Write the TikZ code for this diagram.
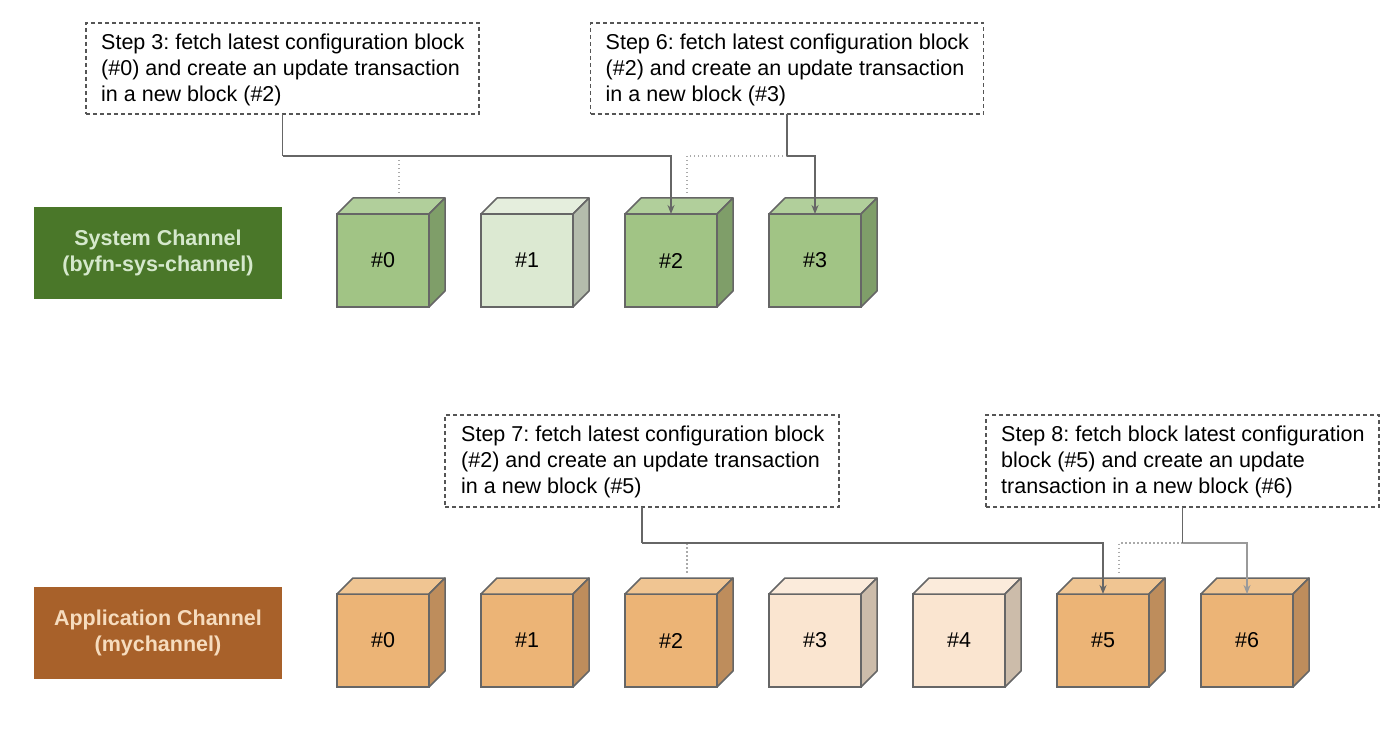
\documentclass[tikz,border=0pt]{standalone}
\usepackage{fontspec}
\setmainfont{Liberation Sans}
\usetikzlibrary{arrows.meta}
\frenchspacing
\definecolor{edgegray}{HTML}{666666}
\definecolor{dashgray}{HTML}{555555}
\definecolor{dotgray}{HTML}{AAAAAA}
\definecolor{lightconn}{HTML}{9A9A9A}
\definecolor{gFront}{HTML}{A1C485}
\definecolor{gTop}{HTML}{B1CF9B}
\definecolor{gSide}{HTML}{7F9E69}
\definecolor{lgFront}{HTML}{DCE9D2}
\definecolor{lgTop}{HTML}{E5EEDD}
\definecolor{lgSide}{HTML}{B4BCAC}
\definecolor{oFront}{HTML}{ECB476}
\definecolor{oTop}{HTML}{F0C592}
\definecolor{oSide}{HTML}{BE8D5C}
\definecolor{loFront}{HTML}{FAE5D0}
\definecolor{loTop}{HTML}{FBEBDB}
\definecolor{loSide}{HTML}{CCBCAA}
\definecolor{sysFill}{HTML}{4A7729}
\definecolor{sysText}{HTML}{D5E8CC}
\definecolor{appFill}{HTML}{A8612A}
\definecolor{appText}{HTML}{F6DCBE}
\newcommand{\cubeblock}[6]{%
  \node[cubefront, fill=#3] (#1) at #2 {#6};
  \filldraw[cubeedge, fill=#4] (#1.north west) -- ([shift={(16,-16)}]#1.north west)
     -- ([shift={(16,-16)}]#1.north east) -- (#1.north east) -- cycle;
  \filldraw[cubeedge, fill=#5] (#1.north east) -- ([shift={(16,-16)}]#1.north east)
     -- ([shift={(16,-16)}]#1.south east) -- (#1.south east) -- cycle;
  \coordinate (#1top) at ([shift={(16,-16)}]#1.north);
}
\begin{document}
\begin{tikzpicture}[x=1pt,y=-1pt,
  txt/.style={font=\fontsize{21.5}{26}\selectfont},
  cubefront/.style={draw=edgegray, line width=1.5pt, minimum width=92pt, minimum height=93pt,
     inner sep=0pt, outer sep=0pt, txt},
  cubeedge/.style={draw=edgegray, line width=1.5pt, line join=round},
  stepbox/.style={draw=dashgray, line width=1.3pt, dash pattern=on 4pt off 3pt,
     minimum width=393pt, inner sep=0pt, outer sep=0pt},
  steptext/.style={txt, align=left, anchor=west, inner sep=0pt, text=black},
  chanbox/.style={minimum width=248pt, minimum height=92pt, inner sep=0pt, align=center,
     font=\fontsize{21.5}{25.5}\selectfont\bfseries},
  conn/.style={draw=edgegray, line width=1.5pt},
  arr/.style={conn, -{Stealth[length=9pt,width=7pt]}},
  dotconn/.style={draw=dotgray, line width=1.6pt, dash pattern=on 1.5pt off 2.5pt},
]
\useasboundingbox (0,0) rectangle (1400,746);

% channel labels
\node[chanbox, fill=sysFill, text=sysText] (sys) at (158,253) {System Channel\\(byfn-sys-channel)};
\node[chanbox, fill=appFill, text=appText] (app) at (158,633) {Application Channel\\(mychannel)};

% system channel blocks
\cubeblock{a0}{(383,260.5)}{gFront}{gTop}{gSide}{\#0}
\cubeblock{a1}{(527,260.5)}{lgFront}{lgTop}{lgSide}{\#1}
\cubeblock{a2}{(671,260.5)}{gFront}{gTop}{gSide}{\#2}
\cubeblock{a3}{(815,260.5)}{gFront}{gTop}{gSide}{\#3}

% application channel blocks
\cubeblock{b0}{(383,640.5)}{oFront}{oTop}{oSide}{\#0}
\cubeblock{b1}{(527,640.5)}{oFront}{oTop}{oSide}{\#1}
\cubeblock{b2}{(671,640.5)}{oFront}{oTop}{oSide}{\#2}
\cubeblock{b3}{(815,640.5)}{loFront}{loTop}{loSide}{\#3}
\cubeblock{b4}{(959,640.5)}{loFront}{loTop}{loSide}{\#4}
\cubeblock{b5}{(1103,640.5)}{oFront}{oTop}{oSide}{\#5}
\cubeblock{b6}{(1247,640.5)}{oFront}{oTop}{oSide}{\#6}

% step boxes
\node[stepbox, minimum height=91pt] (s3) at (282.5,68.5) {};
\node[steptext] (s3t) at ([xshift=15pt,yshift=-1pt]s3.west) {Step 3: fetch latest configuration block\\(\#0) and create an update transaction\\in a new block (\#2)};
\node[stepbox, minimum height=91pt] (s6) at (787,68.5) {};
\node[steptext] (s6t) at ([xshift=15pt,yshift=-1pt]s6.west) {Step 6: fetch latest configuration block\\(\#2) and create an update transaction\\in a new block (\#3)};
\node[stepbox, minimum width=394pt, minimum height=92pt] (s7) at (642,461) {};
\node[steptext] (s7t) at ([xshift=16pt,yshift=-1pt]s7.west) {Step 7: fetch latest configuration block\\(\#2) and create an update transaction\\in a new block (\#5)};
\node[stepbox, minimum height=92pt] (s8) at (1182.5,461) {};
\node[steptext] (s8t) at ([xshift=15pt,yshift=-1pt]s8.west) {Step 8: fetch block latest configuration\\block (\#5) and create an update\\transaction in a new block (\#6)};

% junctions
\coordinate (j3) at ([yshift=-42pt]s3.south);
\coordinate (j6) at ([yshift=-42pt]s6.south);
\coordinate (j7) at ([yshift=-36pt]s7.south);
\coordinate (j8) at ([yshift=-36pt]s8.south);

% dotted references to the fetched configuration block
\draw[dotconn] (a0top |- j3) -- ([yshift=5pt]a0top);
\draw[dotconn] (j6) -| ([yshift=5pt]a2top);
\draw[dotconn] (b2top |- j7) -- ([yshift=5pt]b2top);
\draw[dotconn] (j8) -| ([yshift=5pt]b5top);

% connectors to the new blocks
\draw[conn] (s3.south) -- (j3);
\draw[arr] (j3) -| (a2.north);
\draw[conn] (s6.south) -- (j6);
\draw[arr] (j6) -| (a3.north);
\draw[conn] (s7.south) -- (j7);
\draw[arr] (j7) -| (b5.north);
\draw[conn] (s8.south) -- (j8);
\draw[arr, draw=lightconn] (j8) -| (b6.north);
\end{tikzpicture}
\end{document}
